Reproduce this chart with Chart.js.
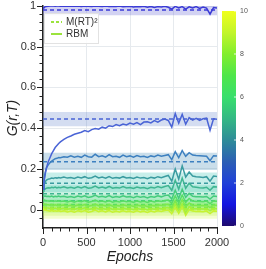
<!DOCTYPE html>
<html>
<head>
<meta charset="utf-8">
<script src="https://cdn.jsdelivr.net/npm/chart.js@4/dist/chart.umd.min.js"></script>
<style>
  html, body { margin: 0; padding: 0; background: #fff; }
  #wrap { width: 266px; height: 269px; position: relative; }
</style>
</head>
<body>
<div id="wrap"><canvas id="chart" width="266" height="269"></canvas></div>
<script>
// epochs sampled along the x axis
const epochs = [0, 10, 20, 30, 40, 60, 80, 100, 120, 140, 160, 180, 200,
  240, 280, 320, 360, 400, 440, 480, 520, 560, 600,
  640, 680, 720, 760, 800, 840, 880, 920, 960, 1000,
  1040, 1080, 1120, 1160, 1200, 1240, 1280, 1320, 1360, 1400,
  1440, 1480, 1520, 1560, 1600, 1640, 1680, 1720, 1760, 1800,
  1840, 1880, 1920, 1960, 2000];

// RBM curves, top to bottom
const rbm1 = [0.99, 0.992, 0.995, 0.997, 0.998, 0.999, 1.0, 1.0, 1.0, 0.999, 1.0, 1.0, 0.999,
  1.0, 0.999, 1.0, 0.999, 1.0, 0.998, 1.0, 0.999, 0.998, 1.0,
  0.999, 0.998, 1.0, 0.997, 0.999, 0.998, 1.0, 0.996, 0.998, 0.999,
  0.995, 0.998, 0.996, 0.999, 0.994, 0.998, 0.993, 0.997, 0.995, 0.999,
  0.994, 0.985, 0.998, 0.99, 0.997, 0.985, 0.996, 0.99, 0.997, 0.988,
  0.995, 0.99, 0.96, 0.992, 0.99];
const rbm2 = [0.10, 0.13, 0.16, 0.185, 0.205, 0.235, 0.255, 0.275, 0.29, 0.305, 0.315, 0.325, 0.333,
  0.345, 0.355, 0.362, 0.37, 0.375, 0.38, 0.388, 0.383, 0.393, 0.398,
  0.395, 0.405, 0.40, 0.412, 0.408, 0.418, 0.412, 0.42, 0.416, 0.425,
  0.42, 0.428, 0.418, 0.43, 0.432, 0.426, 0.437, 0.43, 0.44, 0.445,
  0.438, 0.405, 0.472, 0.425, 0.468, 0.42, 0.452, 0.44, 0.448, 0.438,
  0.446, 0.45, 0.39, 0.446, 0.444];
const rbm3 = [0.10, 0.14, 0.17, 0.19, 0.205, 0.22, 0.23, 0.238, 0.244, 0.25, 0.252, 0.256, 0.255,
  0.26, 0.258, 0.265, 0.258, 0.262, 0.257, 0.268, 0.26, 0.258, 0.272,
  0.26, 0.265, 0.258, 0.27, 0.26, 0.262, 0.257, 0.268, 0.26, 0.264,
  0.258, 0.266, 0.26, 0.262, 0.256, 0.264, 0.26, 0.268, 0.262, 0.266,
  0.27, 0.245, 0.285, 0.255, 0.29, 0.262, 0.28, 0.268, 0.266, 0.265,
  0.264, 0.262, 0.24, 0.265, 0.263];
const rbm4 = [0.10, 0.12, 0.13, 0.14, 0.145, 0.15, 0.152, 0.155, 0.153, 0.157, 0.155, 0.158, 0.156,
  0.16, 0.155, 0.158, 0.153, 0.16, 0.156, 0.162, 0.154, 0.157, 0.165,
  0.156, 0.16, 0.155, 0.163, 0.154, 0.158, 0.155, 0.162, 0.156, 0.158,
  0.153, 0.16, 0.155, 0.158, 0.152, 0.159, 0.155, 0.162, 0.157, 0.163,
  0.168, 0.14, 0.2, 0.15, 0.215, 0.16, 0.185, 0.165, 0.162, 0.16,
  0.158, 0.162, 0.14, 0.165, 0.163];
const rbm5 = [0.09, 0.095, 0.1, 0.103, 0.105, 0.107, 0.106, 0.11, 0.108, 0.111, 0.107, 0.11, 0.108,
  0.112, 0.106, 0.11, 0.105, 0.112, 0.107, 0.113, 0.105, 0.108, 0.116,
  0.107, 0.111, 0.106, 0.114, 0.105, 0.109, 0.106, 0.113, 0.107, 0.109,
  0.104, 0.111, 0.106, 0.109, 0.103, 0.11, 0.106, 0.113, 0.108, 0.114,
  0.118, 0.095, 0.145, 0.1, 0.155, 0.105, 0.13, 0.112, 0.11, 0.108,
  0.107, 0.11, 0.095, 0.113, 0.111];
const rbm6 = [0.07, 0.068, 0.066, 0.067, 0.065, 0.066, 0.064, 0.067, 0.063, 0.066, 0.064, 0.067, 0.063,
  0.066, 0.061, 0.065, 0.06, 0.067, 0.062, 0.068, 0.06, 0.063, 0.071,
  0.062, 0.066, 0.061, 0.069, 0.06, 0.064, 0.061, 0.068, 0.062, 0.064,
  0.059, 0.066, 0.061, 0.064, 0.058, 0.065, 0.061, 0.068, 0.063, 0.069,
  0.072, 0.052, 0.095, 0.055, 0.1, 0.06, 0.08, 0.066, 0.064, 0.063,
  0.062, 0.065, 0.052, 0.067, 0.065];
const rbm7 = [0.05, 0.048, 0.046, 0.045, 0.044, 0.043, 0.042, 0.044, 0.04, 0.043, 0.041, 0.044, 0.04,
  0.043, 0.038, 0.042, 0.037, 0.043, 0.039, 0.045, 0.037, 0.04, 0.047,
  0.039, 0.043, 0.038, 0.045, 0.037, 0.041, 0.038, 0.044, 0.039, 0.041,
  0.036, 0.043, 0.038, 0.041, 0.035, 0.042, 0.038, 0.044, 0.04, 0.045,
  0.047, 0.03, 0.068, 0.032, 0.072, 0.036, 0.055, 0.042, 0.04, 0.04,
  0.039, 0.042, 0.03, 0.043, 0.041];
const rbm8 = [0.03, 0.028, 0.027, 0.026, 0.025, 0.024, 0.022, 0.025, 0.021, 0.024, 0.021, 0.024, 0.02,
  0.023, 0.018, 0.022, 0.017, 0.023, 0.019, 0.025, 0.017, 0.02, 0.027,
  0.019, 0.023, 0.018, 0.025, 0.017, 0.021, 0.018, 0.024, 0.019, 0.021,
  0.016, 0.023, 0.018, 0.021, 0.015, 0.022, 0.018, 0.024, 0.02, 0.025,
  0.027, 0.01, 0.045, 0.012, 0.05, 0.014, 0.033, 0.022, 0.02, 0.02,
  0.019, 0.022, 0.01, 0.023, 0.021];
const rbm9 = [0.015, 0.013, 0.011, 0.01, 0.009, 0.008, 0.006, 0.009, 0.005, 0.008, 0.005, 0.008, 0.004,
  0.007, 0.002, 0.006, 0.001, 0.007, 0.003, 0.009, 0.001, 0.004, 0.011,
  0.003, 0.007, 0.002, 0.009, 0.001, 0.005, 0.002, 0.008, 0.003, 0.005,
  0.0, 0.007, 0.002, 0.005, -0.001, 0.006, 0.002, 0.008, 0.004, 0.009,
  0.011, -0.006, 0.028, -0.004, 0.03, -0.015, 0.015, 0.006, 0.004, 0.004,
  0.003, 0.006, -0.006, 0.007, 0.005];
const rbm10 = [0.005, 0.002, 0.0, -0.002, -0.004, -0.005, -0.007, -0.004, -0.008, -0.005, -0.008, -0.005, -0.009,
  -0.006, -0.011, -0.007, -0.012, -0.006, -0.01, -0.004, -0.012, -0.009, -0.002,
  -0.01, -0.006, -0.011, -0.004, -0.012, -0.008, -0.011, -0.005, -0.01, -0.008,
  -0.013, -0.006, -0.011, -0.008, -0.014, -0.007, -0.011, -0.005, -0.009, -0.004,
  -0.002, -0.02, 0.012, -0.018, 0.015, -0.028, 0.0, -0.007, -0.009, -0.009,
  -0.01, -0.007, -0.019, -0.006, -0.008];

// M(RT)^2 reference levels and their shaded ranges
const levels = [0.98, 0.445, 0.235, 0.13, 0.078, 0.044, 0.025, 0.012, 0.004, 0.0];
const bandLow = [0.955, 0.41, 0.195, 0.085, 0.04, 0.015, 0.0, -0.015, -0.03, -0.045];
const bandHigh = [1.01, 0.48, 0.28, 0.183, 0.12, 0.075, 0.05, 0.04, 0.03, 0.03];

const colorbarTicks = [0, 2, 4, 6, 8, 10];

const rbm = [rbm1, rbm2, rbm3, rbm4, rbm5, rbm6, rbm7, rbm8, rbm9, rbm10];

const lineColors = ['#3a3ad6', '#4a64d6', '#3d80c0', '#3a9ca0', '#3fb592',
  '#45cc7c', '#58de64', '#7ce94c', '#a4f03c', '#c6f232'];
const bandColors = ['rgba(95,95,210,0.28)', 'rgba(85,118,200,0.25)', 'rgba(65,135,180,0.28)',
  'rgba(70,200,185,0.3)', 'rgba(60,205,140,0.24)', 'rgba(70,220,110,0.24)',
  'rgba(95,230,85,0.24)', 'rgba(135,238,65,0.24)', 'rgba(175,242,55,0.24)', 'rgba(205,248,55,0.24)'];
const cmap = ['#1e0a6e', '#1414e0', '#2040d8', '#2c5fb4', '#2e8c98', '#34b884',
  '#38df6c', '#4ee64a', '#82ee2e', '#c2f52a', '#f0ff1e'];

const FONT = '"Liberation Sans", Arial, sans-serif';
const x0 = epochs[0], x1 = epochs[epochs.length - 1];

const datasets = [];
levels.forEach((lv, i) => {
  datasets.push({
    data: [{ x: x0, y: bandHigh[i] }, { x: x1, y: bandHigh[i] }],
    borderWidth: 0, pointRadius: 0, backgroundColor: bandColors[i], fill: '+1', order: 3,
  });
  datasets.push({
    data: [{ x: x0, y: bandLow[i] }, { x: x1, y: bandLow[i] }],
    borderWidth: 0, pointRadius: 0, fill: false, order: 3,
  });
  datasets.push({
    data: [{ x: x0, y: lv }, { x: x1, y: lv }],
    borderColor: lineColors[i], borderWidth: 1.6, borderDash: [4, 3],
    pointRadius: 0, fill: false, order: 2,
  });
  datasets.push({
    data: epochs.map((e, k) => ({ x: e, y: rbm[i][k] })),
    borderColor: lineColors[i], borderWidth: 1.5, pointRadius: 0, fill: false, order: 1,
  });
});

const isMult = (v, s) => Math.abs(v / s - Math.round(v / s)) < 1e-6;

const decorations = {
  id: 'decorations',
  afterDraw(chart) {
    const { ctx, chartArea: a, scales: { x, y } } = chart;
    ctx.save();
    // tick marks
    ctx.strokeStyle = '#222';
    ctx.lineWidth = 1;
    y.ticks.forEach(t => {
      if (!isMult(t.value, 0.04)) return;
      const py = Math.round(y.getPixelForValue(t.value)) + 0.5;
      const len = isMult(t.value, 0.2) ? 6 : 3.5;
      ctx.beginPath(); ctx.moveTo(a.left - len, py); ctx.lineTo(a.left, py); ctx.stroke();
    });
    x.ticks.forEach(t => {
      const px = Math.round(x.getPixelForValue(t.value)) + 0.5;
      const len = isMult(t.value, 500) ? 6 : 3.5;
      ctx.beginPath(); ctx.moveTo(px, a.bottom); ctx.lineTo(px, a.bottom + len); ctx.stroke();
    });

    // axis titles
    ctx.fillStyle = '#222';
    ctx.font = 'italic 14px ' + FONT;
    ctx.textAlign = 'center';
    ctx.textBaseline = 'middle';
    ctx.fillText('Epochs', (a.left + a.right) / 2, 257);
    ctx.save();
    ctx.translate(13, 118);
    ctx.rotate(-Math.PI / 2);
    ctx.fillText('G(r,T)', 0, 0);
    ctx.restore();

    // legend
    ctx.fillStyle = 'rgba(255,255,255,0.85)';
    ctx.strokeStyle = '#e2e2e2';
    ctx.fillRect(44, 13, 54, 30);
    ctx.strokeRect(44.5, 13.5, 54, 30);
    ctx.strokeStyle = '#9be33d';
    ctx.lineWidth = 2;
    ctx.setLineDash([3, 2]);
    ctx.beginPath(); ctx.moveTo(51, 22); ctx.lineTo(62, 22); ctx.stroke();
    ctx.setLineDash([]);
    ctx.beginPath(); ctx.moveTo(51, 34); ctx.lineTo(62, 34); ctx.stroke();
    ctx.fillStyle = '#333';
    ctx.font = '10px ' + FONT;
    ctx.textAlign = 'left';
    ctx.fillText('M(RT)²', 66, 22);
    ctx.fillText('RBM', 66, 34);

    // colorbar
    const cbL = 222, cbR = 236, cbT = 11, cbB = 226;
    const g = ctx.createLinearGradient(0, cbB, 0, cbT);
    cmap.forEach((c, i) => g.addColorStop(i / (cmap.length - 1), c));
    ctx.fillStyle = g;
    ctx.fillRect(cbL, cbT, cbR - cbL, cbB - cbT);
    ctx.font = '7px ' + FONT;
    ctx.fillStyle = '#555';
    ctx.strokeStyle = 'rgba(255,255,255,0.8)';
    ctx.lineWidth = 1;
    colorbarTicks.forEach(v => {
      const py = cbB - (v / 10) * (cbB - cbT);
      ctx.beginPath(); ctx.moveTo(cbR - 2, py); ctx.lineTo(cbR + 1, py); ctx.stroke();
      ctx.fillText(String(v), cbR + 4, py);
    });
    ctx.restore();
  },
};

new Chart(document.getElementById('chart'), {
  type: 'line',
  data: { datasets },
  options: {
    responsive: false,
    animation: false,
    layout: { padding: { top: 0, right: 49, left: 0, bottom: 0 } },
    plugins: { legend: { display: false }, tooltip: { enabled: false } },
    scales: {
      x: {
        type: 'linear', min: 0, max: 2000,
        afterFit: s => { s.height = 41; },
        ticks: {
          stepSize: 100, autoSkip: false, maxRotation: 0, padding: 8,
          color: '#333', font: { family: FONT, size: 11 },
          callback: v => (isMult(v, 500) ? String(v) : ''),
        },
        grid: {
          drawTicks: false,
          color: c => (c.tick && isMult(c.tick.value, 500) ? '#e6eaee' : 'rgba(0,0,0,0)'),
        },
        border: { display: true, color: '#222', width: 1.5 },
      },
      y: {
        min: -0.09, max: 1.0,
        afterFit: s => { s.width = 43; s.paddingTop = 6; s.paddingBottom = 0; },
        ticks: {
          stepSize: 0.04, autoSkip: false, padding: 7,
          color: '#333', font: { family: FONT, size: 11 },
          callback: v => (isMult(v, 0.2) ? String(Math.round(v * 10) / 10) : ''),
        },
        grid: {
          drawTicks: false,
          color: c => (c.tick && isMult(c.tick.value, 0.2) ? '#e6eaee' : 'rgba(0,0,0,0)'),
        },
        border: { display: true, color: '#222', width: 1.5 },
      },
    },
  },
  plugins: [decorations],
});
</script>
</body>
</html>
